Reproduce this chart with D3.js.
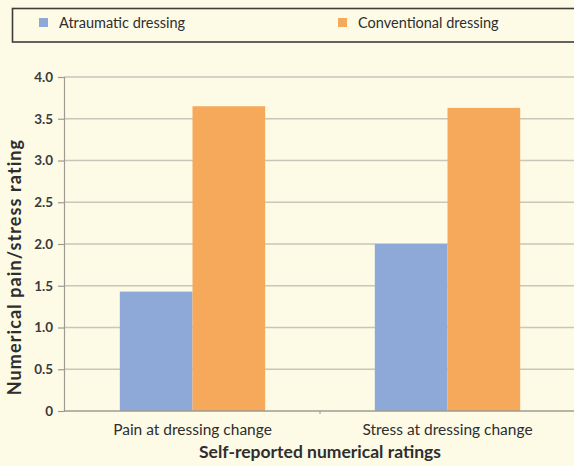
<!DOCTYPE html>
<html><head><meta charset="utf-8">
<script src="https://cdn.jsdelivr.net/npm/d3@7"></script>
<style>
html,body{margin:0;padding:0;background:#fdfbe6;}
svg{display:block;font-family:Lato,"Open Sans",sans-serif;}
</style></head>
<body>
<svg id="c" width="574" height="466"></svg>
<script>
const categories = ["Pain at dressing change", "Stress at dressing change"];
const seriesNames = ["Atraumatic dressing", "Conventional dressing"];
const atraumatic = [1.43, 2.0];
const conventional = [3.65, 3.63];
const yTicks = [0, 0.5, 1.0, 1.5, 2.0, 2.5, 3.0, 3.5, 4.0];
const yTickLabels = ["0", "0.5", "1.0", "1.5", "2.0", "2.5", "3.0", "3.5", "4.0"];
const colors = ["#8ea8d8", "#f6a95a"];

const svg = d3.select("#c");
svg.append("rect").attr("width", 574).attr("height", 466).attr("fill", "#fdfbe6");

const x = d3.scaleBand().domain(categories).range([65, 575]).paddingInner(0.43).paddingOuter(0.215);
const xs = d3.scaleBand().domain(seriesNames).range([0, x.bandwidth()]);
const y = d3.scaleLinear().domain([0, 4]).range([411, 77]);

// gridlines
svg.append("g").selectAll("line").data(yTicks.slice(1)).join("line")
  .attr("x1", 64).attr("x2", 574)
  .attr("y1", d => y(d)).attr("y2", d => y(d))
  .attr("stroke", "#c9c6b9").attr("stroke-width", 1.3);

// bars
const data = categories.map((c, i) => ({c, vals: [atraumatic[i], conventional[i]]}));
const g = svg.append("g");
data.forEach(d => {
  d.vals.forEach((v, j) => {
    g.append("rect")
      .attr("x", x(d.c) + xs(seriesNames[j]))
      .attr("width", xs.bandwidth())
      .attr("y", y(v))
      .attr("height", y(0) - y(v))
      .attr("fill", colors[j]);
  });
});

// y axis
const yAxis = d3.axisLeft(y).tickValues(yTicks).tickFormat((d, i) => yTickLabels[i]).tickSize(6).tickPadding(5);
const ya = svg.append("g").attr("transform", "translate(64,0)").call(yAxis);
ya.select(".domain").attr("stroke", "#9e9b92").attr("stroke-width", 1.2);
ya.selectAll(".tick line").attr("stroke", "#9e9b92").attr("stroke-width", 1.2);
ya.selectAll(".tick text").attr("font-size", 13.5).attr("font-weight", 700).attr("fill", "#3a3a3a")
  .attr("font-family", "Lato, sans-serif");

// x axis
const xa = svg.append("g").attr("transform", `translate(0,${y(0)})`)
  .call(d3.axisBottom(x).tickSize(0).tickPadding(13));
xa.select(".domain").remove();
xa.append("line").attr("x1", 64).attr("x2", 574).attr("stroke", "#9e9b92").attr("stroke-width", 1.5);
xa.append("line").attr("x1", (x(categories[0]) + x.bandwidth() + x(categories[1])) / 2)
  .attr("x2", (x(categories[0]) + x.bandwidth() + x(categories[1])) / 2)
  .attr("y1", 0).attr("y2", 3).attr("stroke", "#9e9b92");
xa.selectAll(".tick text").attr("font-size", 15.5).attr("fill", "#2e2e2e").attr("font-family", "Lato, sans-serif");

// axis titles
svg.append("text").attr("x", 320).attr("y", 458).attr("text-anchor", "middle")
  .attr("font-size", 17.5).attr("font-weight", 700).attr("fill", "#2e2e2e").text("Self-reported numerical ratings");
svg.append("text").attr("transform", `translate(21,${(y(0) + y(4)) / 2 + 23}) rotate(-90)`)
  .attr("text-anchor", "middle").attr("font-size", 18).attr("font-weight", 700).attr("fill", "#2e2e2e")
  .attr("letter-spacing", 1.1)
  .text("Numerical pain/stress rating");

// legend
svg.append("rect").attr("x", 12.5).attr("y", 8.5).attr("width", 570).attr("height", 33.5)
  .attr("fill", "none").attr("stroke", "#3c3c3c").attr("stroke-width", 1.6);
const legX = [39, 338];
seriesNames.forEach((s, i) => {
  svg.append("rect").attr("x", legX[i]).attr("y", 18).attr("width", 9).attr("height", 9).attr("fill", colors[i]);
  svg.append("text").attr("x", legX[i] + 20).attr("y", 28).attr("font-size", 14.5).attr("fill", "#2e2e2e").text(s);
});
</script>
</body></html>
